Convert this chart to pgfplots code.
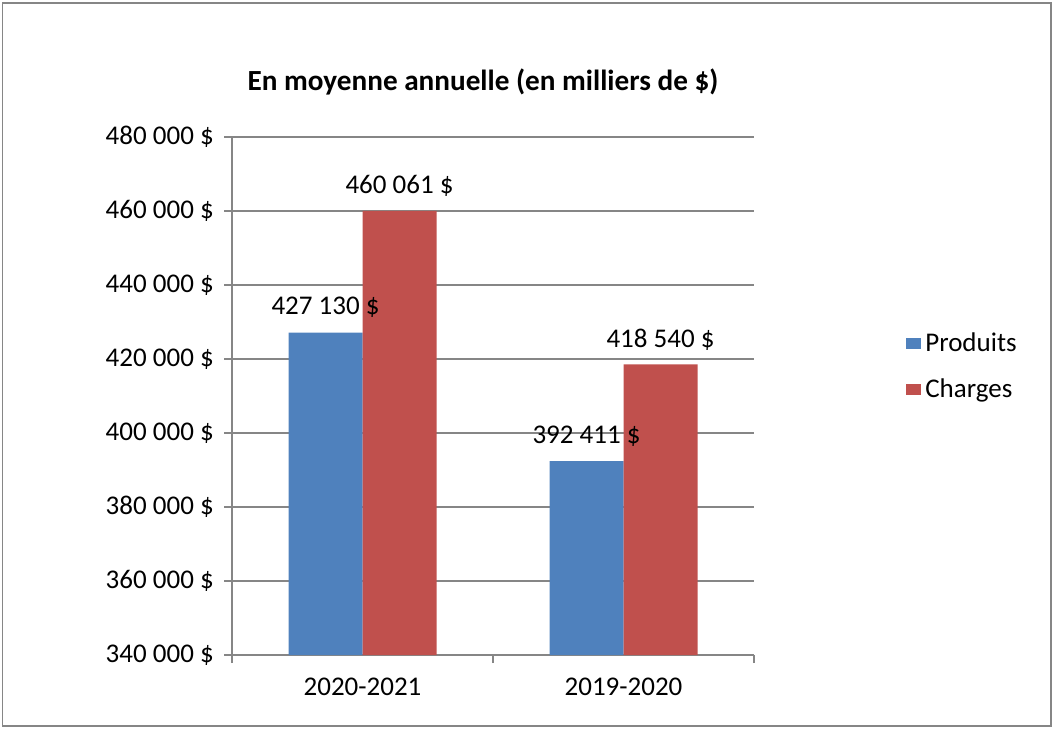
\documentclass[border=0pt]{standalone}
\usepackage{fontspec}
\setmainfont{Carlito}
\usepackage{pgfplots}
\pgfplotsset{compat=1.18}
\definecolor{prodblue}{HTML}{4F81BD}
\definecolor{chargred}{HTML}{C0504D}
\definecolor{linegray}{HTML}{868686}

\begin{document}
\begin{tikzpicture}
\useasboundingbox (0,0) rectangle (526.5pt,364pt);
\draw[linegray, line width=0.9pt] (1.2pt,1pt) rectangle (525.3pt,362.5pt);
\node[font=\fontsize{14.6}{17}\selectfont\bfseries] at (241.5pt,323pt) {En moyenne annuelle (en milliers de \$)};
\begin{axis}[
  at={(116pt,36.5pt)}, anchor=south west,
  scale only axis,
  width=261pt, height=259pt,
  ybar=0pt, bar width=37pt,
  xmin=-0.5, xmax=1.5,
  ymin=340000, ymax=480000,
  axis x line*=bottom, axis y line*=left,
  axis line style={draw=linegray, line width=0.9pt},
  tick style={draw=linegray, line width=0.9pt},
  tick align=outside,
  major tick length=4pt,
  xtick={-0.5,0.5,1.5}, xticklabels={,,},
  extra x ticks={0,1},
  extra x tick labels={2020-2021,2019-2020},
  extra x tick style={major tick length=0pt, tick label style={yshift=-8pt}},
  ytick={340000,360000,380000,400000,420000,440000,460000,480000},
  yticklabels={340 000 \$,360 000 \$,380 000 \$,400 000 \$,420 000 \$,440 000 \$,460 000 \$,480 000 \$},
  scaled y ticks=false,
  ymajorgrids=true,
  grid style={draw=linegray, line width=0.9pt},
  tick label style={font=\fontsize{13.5}{16}\selectfont},
  yticklabel style={xshift=-1.6pt},
  every node near coord/.append style={font=\fontsize{13.5}{16}\selectfont, anchor=center, yshift=12.5pt},
  legend style={draw=none, fill=none, at={(1.291,0.557)}, anchor=west,
    font=\fontsize{13.5}{16}\selectfont, row sep=8pt, inner sep=0pt},
  legend cell align=left,
  legend image code/.code={\fill[#1] (0pt,-2.75pt) rectangle (7.5pt,2.75pt);},
]
\addplot[fill=prodblue, draw=none, nodes near coords, point meta=explicit symbolic]
  coordinates {(0,427130) [427 130 \$] (1,392411) [392 411 \$]};
\addplot[fill=chargred, draw=none, nodes near coords, point meta=explicit symbolic]
  coordinates {(0,460061) [460 061 \$] (1,418540) [418 540 \$]};
\legend{Produits, Charges}
\end{axis}
\end{tikzpicture}
\end{document}
